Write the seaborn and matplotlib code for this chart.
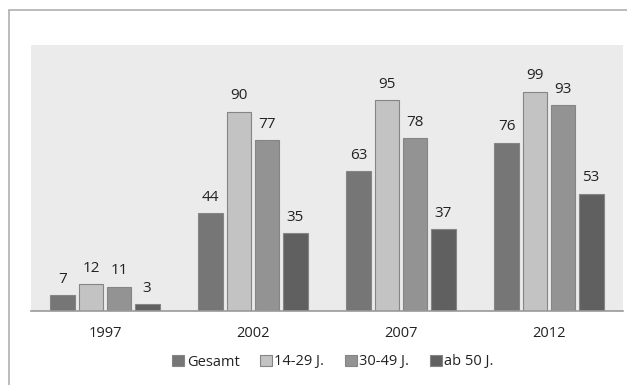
import matplotlib
matplotlib.use("Agg")
import matplotlib.pyplot as plt
import seaborn as sns
import pandas as pd
from matplotlib.lines import Line2D

years = ["1997", "2002", "2007", "2012"]
groups = ["Gesamt", "14-29 J.", "30-49 J.", "ab 50 J."]
gesamt = [7, 44, 63, 76]
j14_29 = [12, 90, 95, 99]
j30_49 = [11, 77, 78, 93]
ab50 = [3, 35, 37, 53]

series = [gesamt, j14_29, j30_49, ab50]
rows = []
for g, vals in zip(groups, series):
    for y, v in zip(years, vals):
        rows.append({"Jahr": y, "Gruppe": g, "Wert": v})
df = pd.DataFrame(rows)

colors = ["#767676", "#c3c3c3", "#939393", "#606060"]

sns.set_style("white")
plt.rcParams["font.family"] = ["Open Sans", "DejaVu Sans"]

fig = plt.figure(figsize=(6.27, 3.85), dpi=100)
ax = fig.add_axes([31/627, 1 - 311/385, 592/627, 266/385])
ax.set_facecolor("#ebebeb")

sns.barplot(data=df, x="Jahr", y="Wert", hue="Gruppe", palette=colors,
            width=0.76, gap=0.12, ax=ax, legend=False,
            edgecolor="#858585", linewidth=0.8)

for cont in ax.containers:
    ax.bar_label(cont, padding=6, fontsize=11, color="#222222")

ax.set_ylim(0, 120)
ax.set_xlim(-0.5, 3.5)
ax.set_yticks([])
ax.set_xlabel("")
ax.set_ylabel("")
for s in ["top", "right", "left"]:
    ax.spines[s].set_visible(False)
ax.spines["bottom"].set_color("#999999")
ax.spines["bottom"].set_linewidth(1.2)
ax.tick_params(axis="x", length=0, pad=11, labelsize=10.5, colors="#222222")

# outer frame lines (left and top)
fig.add_artist(Line2D([9/627, 9/627], [0, 1 - 10/385], transform=fig.transFigure,
                      color="#b0b0b0", lw=1.2))
fig.add_artist(Line2D([9/627, 1], [1 - 10/385, 1 - 10/385], transform=fig.transFigure,
                      color="#b0b0b0", lw=1.2))

handles = [plt.Rectangle((0, 0), 1, 1, facecolor=c, edgecolor="#858585", lw=0.8) for c in colors]
fig.legend(handles, groups, loc="center", bbox_to_anchor=(333/627, 1 - 362/385),
           ncol=4, frameon=False, fontsize=10.5, handlelength=0.8, handleheight=0.8,
           handletextpad=0.2, columnspacing=1.4, labelcolor="#222222")

fig.savefig("out.png", dpi=100, facecolor="white")
